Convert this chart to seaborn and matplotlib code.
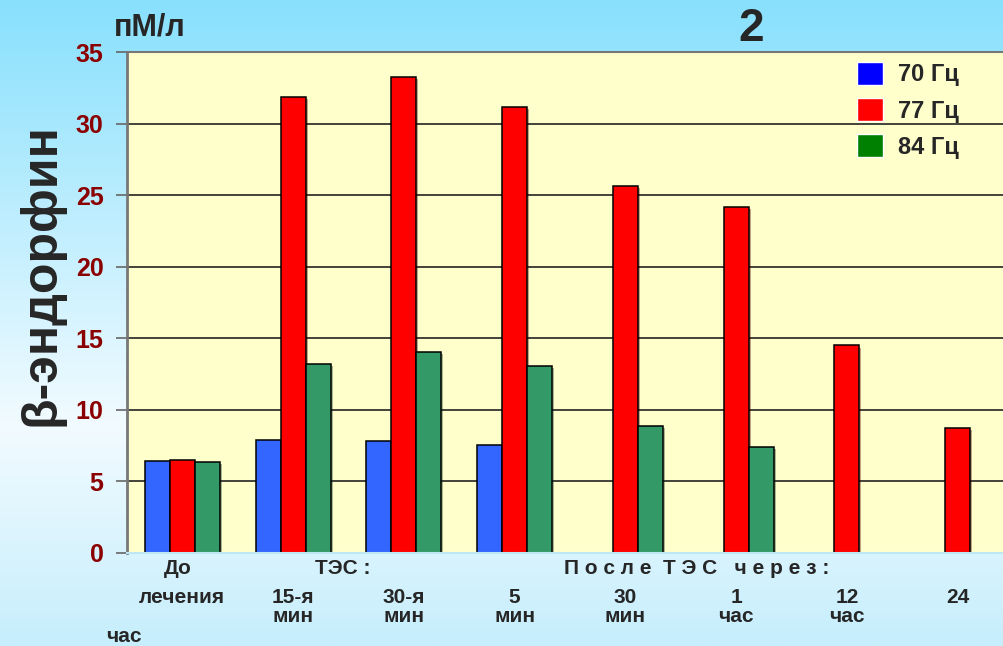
import numpy as np
import pandas as pd
import seaborn as sns
import matplotlib.pyplot as plt
import matplotlib.patches as mpatches
import matplotlib.patheffects as pe

# данные
categories = ['До лечения', 'ТЭС 15-я мин', 'ТЭС 30-я мин', 'После 5 мин',
              'После 30 мин', 'После 1 час', 'После 12 час', 'После 24 час']
tick_labels = ['лечения', '15-я\nмин', '30-я\nмин', '5\nмин',
               '30\nмин', '1\nчас', '12\nчас', '24']
freqs = ['70 Гц', '77 Гц', '84 Гц']
v70 = [6.4, 7.9, 7.8, 7.55, np.nan, np.nan, np.nan, np.nan]
v77 = [6.5, 31.85, 33.25, 31.15, 25.65, 24.2, 14.5, 8.75]
v84 = [6.35, 13.2, 14.05, 13.05, 8.85, 7.4, np.nan, np.nan]
yticks = [0, 5, 10, 15, 20, 25, 30, 35]

bar_colors = ['#3366ff', '#ff0000', '#339966']
legend_colors = ['#0000ff', '#ff0000', '#008000']

df = pd.DataFrame({
    'time': categories * 3,
    'freq': [f for f in freqs for _ in categories],
    'value': v70 + v77 + v84,
})

sns.set_style('white')
plt.rcParams['font.family'] = ['Liberation Sans', 'DejaVu Sans']

fig = plt.figure(figsize=(10.04, 6.46), dpi=100)

# фон с градиентом
bg = fig.add_axes([0, 0, 1, 1], zorder=-2)
t = np.linspace(0, 1, 300)
c_top = np.array([0x88, 0xe0, 0xfd]) / 255
c_mid = np.array([0xf2, 0xfb, 0xff]) / 255
c_bot = np.array([0xc6, 0xee, 0xfc]) / 255
grad = np.zeros((300, 1, 3))
for i, v in enumerate(t):
    if v < 0.66:
        k = v / 0.66
        grad[i, 0] = c_top * (1 - k) + c_mid * k
    else:
        k = (v - 0.66) / 0.34
        grad[i, 0] = c_mid * (1 - k) + c_bot * k
bg.imshow(grad, aspect='auto', extent=[0, 1, 0, 1])
bg.axis('off')

ax = fig.add_axes([127 / 1004, 93 / 646, 886 / 1004, 501 / 646])
ax.set_facecolor('#ffffcc')

sns.barplot(data=df, x='time', y='value', hue='freq', order=categories,
            hue_order=freqs, palette=bar_colors, width=0.675, saturation=1,
            edgecolor='black', linewidth=1.1, errorbar=None, legend=False, ax=ax)

for p in ax.patches:
    p.set_path_effects([pe.SimplePatchShadow(offset=(1.5, -1.5), alpha=0.35), pe.Normal()])

ax.set_xlim(-0.5, 7.5)
ax.set_ylim(0, 35)
ax.set_yticks(yticks)
ax.set_yticklabels([str(v) for v in yticks], color='#8b0000', fontsize=18, fontweight='bold')
ax.tick_params(axis='y', direction='out', length=8, width=1.2, color='#666666', pad=9, left=True)
ax.set_xticks(range(len(categories)))
ax.set_xticklabels(tick_labels, fontsize=15, fontweight='bold', linespacing=1.0)
ax.tick_params(axis='x', length=0, pad=25)
ax.set_xlabel('')
ax.set_ylabel('')

ax.set_axisbelow(True)
ax.yaxis.grid(True, color='#222222', linewidth=1.2)
ax.spines['left'].set_color('#777777')
ax.spines['left'].set_linewidth(2)
ax.spines['top'].set_color('#777777')
ax.spines['top'].set_linewidth(1.5)
ax.spines['right'].set_visible(False)
ax.spines['bottom'].set_color('#bfe8f5')
ax.spines['bottom'].set_linewidth(1.5)

# подписи над строкой делений
tr = ax.get_xaxis_transform()
ax.text(-0.04, -0.03, 'До', transform=tr, ha='center', va='center', fontsize=15, fontweight='bold')
ax.text(1.45, -0.03, 'ТЭС :', transform=tr, ha='center', va='center', fontsize=15, fontweight='bold')
ax.text(4.64, -0.03, 'П о с л е  Т Э С   ч е р е з :', transform=tr, ha='center', va='center',
        fontsize=15, fontweight='bold')
fig.text(124 / 1004, 1 - 637 / 646, 'час', ha='center', va='center', fontsize=15, fontweight='bold')

# заголовки
fig.text(41 / 1004, 1 - 275 / 646, 'β-эндорфин', rotation=90, ha='center', va='center',
         fontsize=36, fontweight='bold')
fig.text(150 / 1004, 1 - 28 / 646, 'пМ/л', ha='center', va='center', fontsize=22, fontweight='bold')
fig.text(751 / 1004, 1 - 29 / 646, '2', ha='center', va='center', fontsize=33, fontweight='bold')

handles = [mpatches.Patch(facecolor=c, edgecolor='white', linewidth=1, label=f)
           for c, f in zip(legend_colors, freqs)]
ax.legend(handles=handles, loc='upper right', bbox_to_anchor=(966 / 1004, 1 - 55 / 646),
          bbox_transform=fig.transFigure, frameon=False, prop={'size': 17, 'weight': 'bold'},
          handlelength=1.1, handleheight=1.1, labelspacing=0.5, handletextpad=0.65,
          borderaxespad=0, borderpad=0.3)

fig.savefig('out.png', dpi=100)
